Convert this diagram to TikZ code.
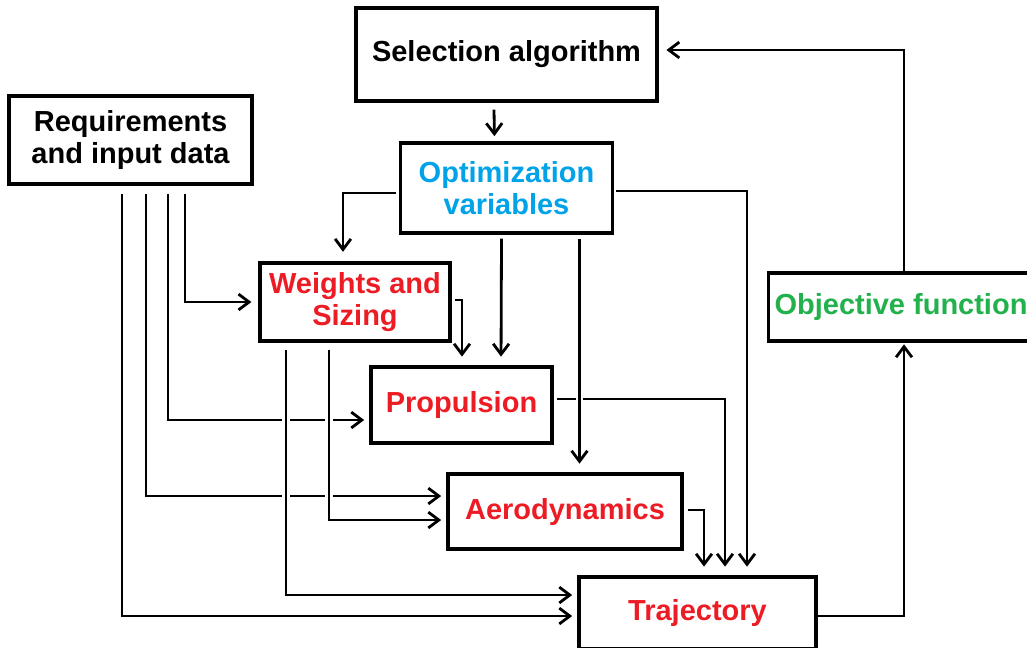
\documentclass[tikz,border=0pt]{standalone}
\usepackage{fontspec}
\setmainfont{Liberation Sans}
\usetikzlibrary{arrows.meta,calc}
\definecolor{optblue}{HTML}{00A2E8}
\definecolor{modred}{HTML}{ED1C24}
\definecolor{objgreen}{HTML}{22B14C}
\begin{document}
\begin{tikzpicture}[x=0.02cm, y=-0.02cm]
		\tikzstyle{block} =[draw, line width=1.8pt, font=\bfseries\fontsize{16.5}{18.5}\selectfont, align=center, inner sep=0pt];
		\tikzstyle{conn} =[draw, line width=1.6pt, -{Straight Barb[length=6pt,width=9pt]}, shorten >=3pt];
		\tikzstyle{over} =[preaction={draw=white, line width=4.5pt, -, shorten >=8pt}];
		\useasboundingbox (0,0) rectangle (1027,647);

		\node[block, minimum width=6.02cm, minimum height=1.86cm] (sel) at (506.5,54.5) {Selection algorithm};
		\node[block, text=optblue, minimum width=4.24cm, minimum height=1.8cm, below of = sel, node distance=2.67cm] (opt) {Optimization\\variables};
		\node[block, minimum width=4.86cm, minimum height=1.76cm] (req) at (130.5,140) {Requirements\\and input data};
		\node[block, text=modred, minimum width=3.8cm, minimum height=1.56cm] (wts) at (355,302) {Weights and\\Sizing};
		\node[block, text=modred, minimum width=3.62cm, minimum height=1.52cm] (prop) at (461.5,405) {Propulsion};
		\node[block, text=modred, minimum width=4.68cm, minimum height=1.5cm] (aero) at (565,511.5) {Aerodynamics};
		\node[block, text=modred, minimum width=4.74cm, minimum height=1.44cm] (traj) at (697.5,613) {Trajectory};
		\node[block, text=objgreen, anchor=west, inner xsep=0.12cm, minimum height=1.36cm] (obj) at (767,307) {Objective function};

		\coordinate (o3) at ($(opt.south)+(73,4)$);

		\draw[conn] ($(sel.south)+(-12.5,7)$) -- ($(opt.north)+(-12,0)$);
		\draw[conn, shorten >=5.5pt] ($(opt.west)+(-3,5)$) -| ($(wts.north)+(-12,0)$);
		\draw[conn, shorten >=5pt] ($(opt.south)+(-5,4)$) -- ($(prop.north)+(39.5,0)$);
		\draw[conn, shorten >=5pt] ($(opt.east)+(2,3)$) -| ($(traj.north)+(49.5,0)$);
		\draw[conn, shorten >=5pt] ($(wts.east)+(3,-2)$) -| ($(prop.north)+(0.5,0)$);

		\draw[conn, shorten >=4pt] ($(req.south)+(54.5,8)$) |- (wts.west);
		\draw[conn] ($(req.south)+(37.5,8)$) |- ($(prop.west)+(0,15)$);
		\draw[conn] ($(req.south)+(15.5,8)$) |- ($(aero.west)+(0,-15.5)$);
		\draw[conn] ($(req.south)+(-8.5,8)$) |- ($(traj.west)+(0,3)$);

		\draw[conn, shorten >=5pt] ($(prop.east)+(3,-6)$) -| ($(traj.north)+(27.5,0)$);
		\draw[conn, shorten >=5pt] ($(aero.east)+(4,-1.5)$) -| ($(traj.north)+(6.5,0)$);

		\draw[conn, over, shorten >=5pt] (o3) -- (o3 |- aero.north);
		\draw[conn, over] ($(wts.south)+(-26,7)$) |- ($(aero.west)+(0,8.5)$);
		\draw[conn, over] ($(wts.south)+(-69,7)$) |- ($(traj.west)+(0,-18)$);

		\draw[conn, shorten >=1pt] ($(traj.east)+(0,3)$) -| ($(obj.south)+(3,0)$);
		\draw[conn, shorten >=4.5pt] ($(obj.north)+(3,0)$) |- ($(sel.east)+(0,-4.5)$);
	\end{tikzpicture}
\end{document}
